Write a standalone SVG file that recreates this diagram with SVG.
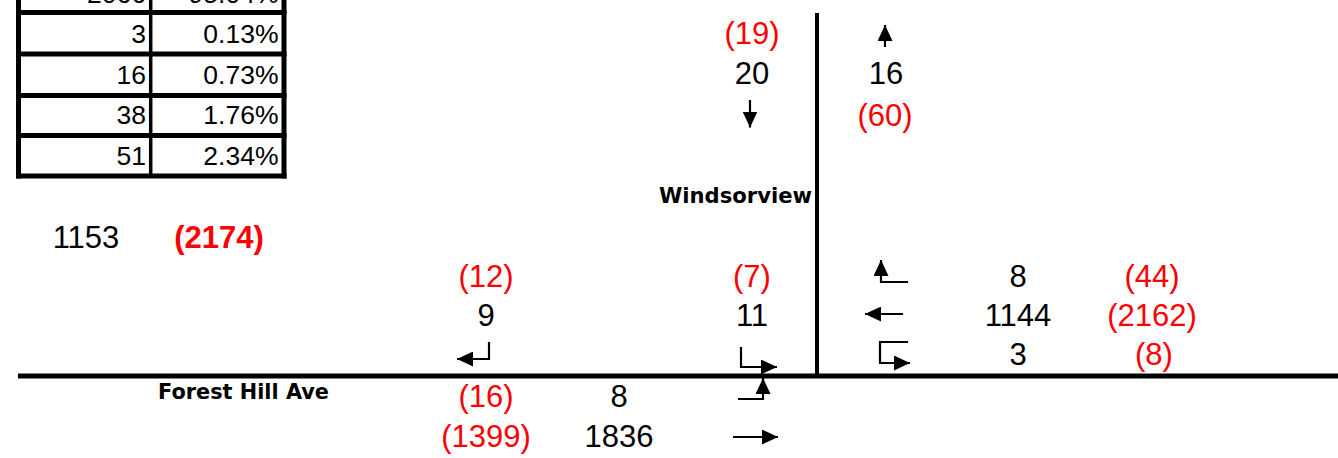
<svg xmlns="http://www.w3.org/2000/svg" width="1338" height="458" viewBox="0 0 1338 458">
<style>
  .n { font-family: "Liberation Sans", Arial, sans-serif; font-size: 31px; text-anchor: middle; fill: #000; }
  .r { fill: #FF0000; }
  .b { font-weight: bold; }
  .t { font-family: "Liberation Sans", Arial, sans-serif; font-size: 26.5px; text-anchor: end; fill: #000; }
  .lbl { font-family: "DejaVu Sans", Verdana, sans-serif; font-size: 21px; font-weight: bold; fill: #000; }
  .ar { fill: none; stroke: #000; stroke-width: 2.2; marker-end: url(#ah); }
  .road { stroke: #000; fill: none; }
</style>
<defs>
  <marker id="ah" viewBox="0 0 16 15" refX="16" refY="7.5" markerWidth="16" markerHeight="15" markerUnits="userSpaceOnUse" orient="auto">
    <path d="M0,0 L16,7.5 L0,15 z" fill="#000"/>
  </marker>
</defs>
<rect width="1338" height="458" fill="#fff"/>

<g id="table">
  <g class="road" stroke-width="5">
    <line x1="18.5" y1="-5" x2="18.5" y2="178.5"/>
    <line x1="284" y1="-5" x2="284" y2="178.5"/>
    <line x1="16" y1="12.5" x2="286.5" y2="12.5"/>
    <line x1="16" y1="54" x2="286.5" y2="54"/>
    <line x1="16" y1="95.5" x2="286.5" y2="95.5"/>
    <line x1="16" y1="135.5" x2="286.5" y2="135.5"/>
    <line x1="16" y1="176" x2="286.5" y2="176"/>
  </g>
  <line class="road" x1="150.7" y1="-5" x2="150.7" y2="176" stroke-width="3.5"/>
  <text class="t" x="146" y="2.5">2066</text><text class="t" x="278.5" y="2.5">95.04%</text>
  <text class="t" x="146" y="43">3</text><text class="t" x="278.5" y="43">0.13%</text>
  <text class="t" x="146" y="83.5">16</text><text class="t" x="278.5" y="83.5">0.73%</text>
  <text class="t" x="146" y="124">38</text><text class="t" x="278.5" y="124">1.76%</text>
  <text class="t" x="146" y="165">51</text><text class="t" x="278.5" y="165">2.34%</text>
</g>

<g id="roads">
  <line class="road" x1="817" y1="13" x2="817" y2="376" stroke-width="4"/>
  <line class="road" x1="18" y1="376" x2="1338" y2="376" stroke-width="5"/>
  <text class="lbl" x="659" y="203" textLength="153" lengthAdjust="spacingAndGlyphs">Windsorview</text>
  <text class="lbl" x="158" y="399" textLength="171" lengthAdjust="spacingAndGlyphs">Forest Hill Ave</text>
</g>

<g id="total">
  <text class="n" x="86" y="248">1153</text>
  <text class="n r b" x="219" y="248">(2174)</text>
</g>

<g id="north-approach">
  <text class="n r" x="752" y="44">(19)</text>
  <text class="n" x="752" y="84">20</text>
  <text class="n" x="886" y="84">16</text>
  <text class="n r" x="885" y="126">(60)</text>
</g>

<g id="south-approach">
  <text class="n r" x="486" y="287">(12)</text>
  <text class="n" x="486" y="326">9</text>
  <text class="n r" x="752" y="287">(7)</text>
  <text class="n" x="752" y="326">11</text>
</g>

<g id="east-approach">
  <text class="n" x="1018" y="287">8</text>
  <text class="n r" x="1152" y="287">(44)</text>
  <text class="n" x="1018" y="326">1144</text>
  <text class="n r" x="1152" y="326">(2162)</text>
  <text class="n" x="1018" y="365">3</text>
  <text class="n r" x="1154" y="365">(8)</text>
</g>

<g id="west-approach">
  <text class="n r" x="486" y="407">(16)</text>
  <text class="n" x="619" y="407">8</text>
  <text class="n r" x="486" y="447">(1399)</text>
  <text class="n" x="619" y="447">1836</text>
</g>

<g id="connectors">
  <path class="ar" d="M750,100 V127.5"/>
  <path class="ar" d="M885,47 V25"/>
  <path class="ar" d="M489,342 V359 H457"/>
  <path class="ar" d="M741,347 V367 H777"/>
  <path class="ar" d="M738,399 H763 V378"/>
  <path class="ar" d="M733,437 H778"/>
  <path class="ar" d="M908,282 H881 V260"/>
  <path class="ar" d="M903,314 H865"/>
  <path class="ar" d="M908,342 H880 V363 H910"/>
</g>
</svg>
